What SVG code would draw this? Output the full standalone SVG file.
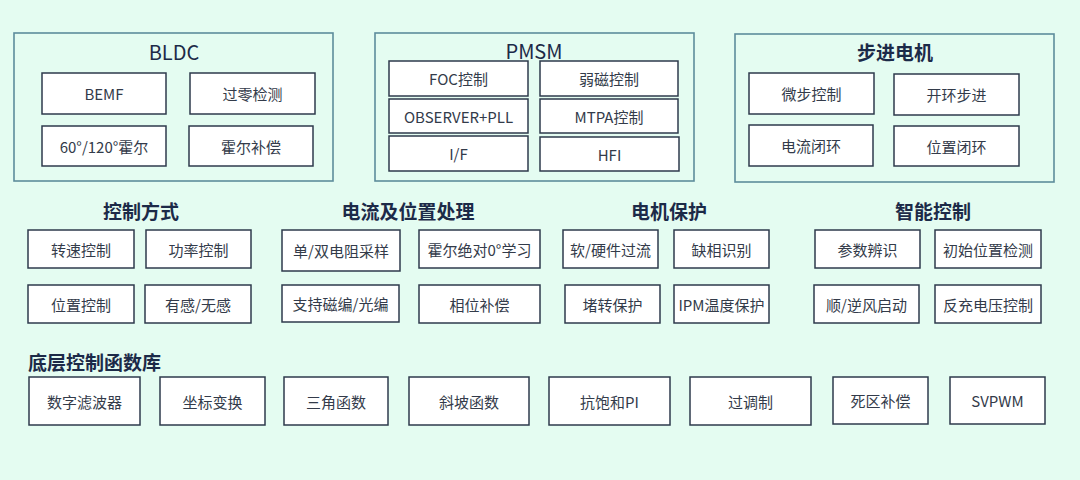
<svg xmlns="http://www.w3.org/2000/svg" width="1080" height="480" viewBox="0 0 1080 480">
<style>
.bg{fill:#e4fcf1}
.grp{fill:#e4fcf1;stroke:#5d8c9c;stroke-width:1.6}
.box{fill:#ffffff;stroke:#2e3a4c;stroke-width:1.5}
.t{font-family:"Noto Sans CJK SC","Noto Sans",sans-serif;font-size:15px;fill:#333b4a;text-anchor:middle;dominant-baseline:central}
.gt{font-family:"Noto Sans CJK SC","Noto Sans",sans-serif;font-size:20px;fill:#1c2a48;text-anchor:middle;dominant-baseline:central}
.h{font-family:"Noto Sans CJK SC","Noto Sans",sans-serif;font-size:19px;font-weight:bold;fill:#1c2a48;text-anchor:middle;dominant-baseline:central}
</style>
<rect class="bg" x="0" y="0" width="1080" height="480"/>
<g id="connectors"></g>

<g id="bldc">
<rect class="grp" x="14" y="33" width="319" height="148"/>
<text class="gt" x="174" y="51">BLDC</text>
</g>
<g id="bemf"><rect class="box" x="42" y="73" width="124" height="41"/><text class="t" x="104" y="93.5">BEMF</text></g>
<g id="zero"><rect class="box" x="190" y="73" width="125" height="41"/><text class="t" x="252.5" y="93.5">过零检测</text></g>
<g id="hall60"><rect class="box" x="42" y="126" width="124" height="40"/><text class="t" x="104" y="146">60°/120°霍尔</text></g>
<g id="hallcomp"><rect class="box" x="189" y="126" width="124" height="40"/><text class="t" x="251" y="146">霍尔补偿</text></g>

<g id="pmsm">
<rect class="grp" x="375" y="33" width="319" height="148"/>
<text class="gt" x="534" y="50">PMSM</text>
</g>
<g id="foc"><rect class="box" x="389" y="61" width="139" height="35"/><text class="t" x="458.5" y="78.5">FOC控制</text></g>
<g id="fw"><rect class="box" x="540" y="61" width="138" height="35"/><text class="t" x="609" y="78.5">弱磁控制</text></g>
<g id="obs"><rect class="box" x="389" y="99" width="139" height="34"/><text class="t" x="458.5" y="116">OBSERVER+PLL</text></g>
<g id="mtpa"><rect class="box" x="540" y="99" width="138" height="34"/><text class="t" x="609" y="116">MTPA控制</text></g>
<g id="if"><rect class="box" x="389" y="136" width="139" height="35"/><text class="t" x="458.5" y="153.5">I/F</text></g>
<g id="hfi"><rect class="box" x="540" y="137" width="139" height="34"/><text class="t" x="609.5" y="154">HFI</text></g>

<g id="stepper">
<rect class="grp" x="735" y="34" width="319" height="148"/>
<text class="h" x="895" y="51">步进电机</text>
</g>
<g id="micro"><rect class="box" x="749" y="73" width="125" height="41"/><text class="t" x="811.5" y="93.5">微步控制</text></g>
<g id="openloop"><rect class="box" x="894" y="74" width="125" height="41"/><text class="t" x="956.5" y="94.5">开环步进</text></g>
<g id="curloop"><rect class="box" x="749" y="125" width="124" height="41"/><text class="t" x="811" y="145.5">电流闭环</text></g>
<g id="posloop"><rect class="box" x="894" y="126" width="125" height="40"/><text class="t" x="956.5" y="146">位置闭环</text></g>

<g id="ctrl-title"><text class="h" x="141" y="210">控制方式</text></g>
<g id="speed"><rect class="box" x="28" y="230" width="106" height="38"/><text class="t" x="81" y="249">转速控制</text></g>
<g id="power"><rect class="box" x="146" y="230" width="105" height="38"/><text class="t" x="198.5" y="249">功率控制</text></g>
<g id="position"><rect class="box" x="28" y="285" width="106" height="38"/><text class="t" x="81" y="304">位置控制</text></g>
<g id="sensor"><rect class="box" x="145" y="285" width="106" height="38"/><text class="t" x="198" y="304">有感/无感</text></g>

<g id="cur-title"><text class="h" x="408" y="210">电流及位置处理</text></g>
<g id="shunt"><rect class="box" x="282" y="230" width="118" height="41"/><text class="t" x="341" y="250.5">单/双电阻采样</text></g>
<g id="hallzero"><rect class="box" x="419" y="230" width="121" height="38"/><text class="t" x="479.5" y="249">霍尔绝对0°学习</text></g>
<g id="encoder"><rect class="box" x="282" y="285" width="117" height="37"/><text class="t" x="340.5" y="303.5">支持磁编/光编</text></g>
<g id="phase"><rect class="box" x="419" y="285" width="121" height="38"/><text class="t" x="479.5" y="304">相位补偿</text></g>

<g id="prot-title"><text class="h" x="669" y="210">电机保护</text></g>
<g id="oc"><rect class="box" x="563" y="230" width="95" height="38"/><text class="t" x="610.5" y="249">软/硬件过流</text></g>
<g id="phaseloss"><rect class="box" x="674" y="230" width="95" height="38"/><text class="t" x="721.5" y="249">缺相识别</text></g>
<g id="stall"><rect class="box" x="565" y="285" width="95" height="38"/><text class="t" x="612.5" y="304">堵转保护</text></g>
<g id="ipm"><rect class="box" x="674" y="285" width="95" height="38"/><text class="t" x="721.5" y="304">IPM温度保护</text></g>

<g id="smart-title"><text class="h" x="933" y="210">智能控制</text></g>
<g id="param"><rect class="box" x="815" y="230" width="105" height="38"/><text class="t" x="867.5" y="249">参数辨识</text></g>
<g id="initpos"><rect class="box" x="935" y="230" width="106" height="38"/><text class="t" x="988" y="249">初始位置检测</text></g>
<g id="wind"><rect class="box" x="814" y="285" width="105" height="38"/><text class="t" x="866.5" y="304">顺/逆风启动</text></g>
<g id="backemf"><rect class="box" x="935" y="285" width="106" height="38"/><text class="t" x="988" y="304">反充电压控制</text></g>

<g id="lib-title"><text class="h" x="28" y="361" style="text-anchor:start">底层控制函数库</text></g>
<g id="filter"><rect class="box" x="29" y="377" width="111" height="48"/><text class="t" x="84.5" y="401">数字滤波器</text></g>
<g id="coord"><rect class="box" x="160" y="377" width="105" height="48"/><text class="t" x="212.5" y="401">坐标变换</text></g>
<g id="trig"><rect class="box" x="284" y="377" width="104" height="48"/><text class="t" x="336" y="401">三角函数</text></g>
<g id="ramp"><rect class="box" x="409" y="377" width="120" height="48"/><text class="t" x="469" y="401">斜坡函数</text></g>
<g id="pi"><rect class="box" x="549" y="377" width="121" height="48"/><text class="t" x="609.5" y="401">抗饱和PI</text></g>
<g id="overmod"><rect class="box" x="690" y="377" width="121" height="48"/><text class="t" x="750.5" y="401">过调制</text></g>
<g id="dead"><rect class="box" x="833" y="377" width="95" height="47"/><text class="t" x="880.5" y="400.5">死区补偿</text></g>
<g id="svpwm"><rect class="box" x="950" y="377" width="95" height="47"/><text class="t" x="997.5" y="400.5">SVPWM</text></g>
</svg>
